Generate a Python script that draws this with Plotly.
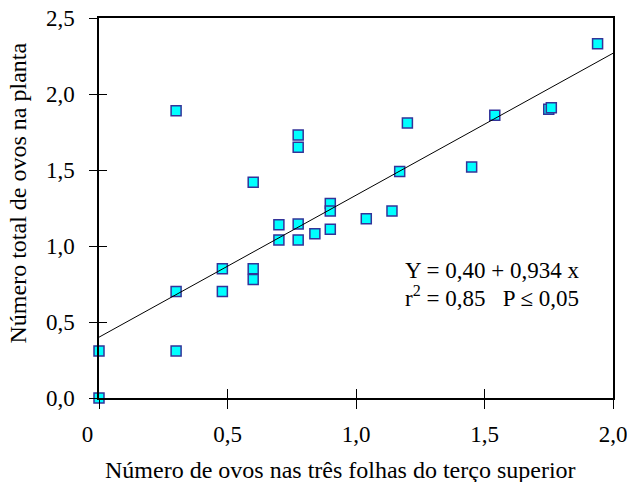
import plotly.graph_objects as go

# Data
x_vals = [0.00, 0.00, 0.30, 0.30, 0.30, 0.48, 0.48, 0.60, 0.60, 0.60,
          0.70, 0.70, 0.775, 0.775, 0.775, 0.775, 0.84, 0.90, 0.90, 0.90,
          1.04, 1.14, 1.17, 1.20, 1.45, 1.54, 1.75, 1.76, 1.94]
y_vals = [0.00, 0.31, 1.89, 0.70, 0.31, 0.85, 0.70, 1.42, 0.85, 0.78,
          1.14, 1.04, 1.73, 1.65, 1.145, 1.04, 1.08, 1.28, 1.23, 1.11,
          1.18, 1.23, 1.49, 1.81, 1.52, 1.86, 1.90, 1.91, 2.33]

intercept = 0.40
slope = 0.934
line_x = [0.0, 2.0]
line_y = [intercept + slope * v for v in line_x]

x_tickvals = [0, 0.5, 1.0, 1.5, 2.0]
x_ticktext = ["0&nbsp;&nbsp;&nbsp;&nbsp;", "0,5", "1,0", "1,5", "2,0"]
y_tickvals = [0, 0.5, 1.0, 1.5, 2.0, 2.5]
y_ticktext = ["0,0", "0,5", "1,0", "1,5", "2,0", "2,5"]

eq_line1 = "Y = 0,40 + 0,934 x"
eq_line2 = "r<sup>2</sup> = 0,85   P ≤ 0,05"
x_title = "Número de ovos nas três folhas do terço superior"
y_title = "Número total de ovos na planta"

FONT = "Liberation Serif, Times New Roman, serif"
XR = [0, 2.0]
YR = [0, 2.5]

fig = go.Figure()
fig.add_trace(go.Scatter(
    x=line_x, y=line_y, mode="lines", xaxis="x2", yaxis="y2",
    line=dict(color="black", width=1), showlegend=False, hoverinfo="skip"))
fig.add_trace(go.Scatter(
    x=x_vals, y=y_vals, mode="markers", cliponaxis=False,
    marker=dict(symbol="square", size=10, color="#00FFFF",
                line=dict(color="#333399", width=1.5)),
    showlegend=False))

axis_common = dict(showgrid=False, zeroline=False, automargin=False)
fig.update_layout(
    template="none",
    width=627, height=482,
    margin=dict(l=99, r=14, t=18, b=84),
    paper_bgcolor="white", plot_bgcolor="white",
    font=dict(family=FONT, size=23, color="black"),
    xaxis=dict(range=XR, tickvals=x_tickvals, ticktext=x_ticktext,
               ticks="outside", ticklen=9, tickwidth=1, tickcolor="black",
               showline=True, linecolor="black", linewidth=1.5, mirror=True,
               ticklabelstandoff=6, ticklabeloverflow="allow",
               **axis_common),
    yaxis=dict(range=YR, tickvals=y_tickvals, ticktext=y_ticktext,
               ticks="outside", ticklen=8, tickwidth=1, tickcolor="black",
               showline=True, linecolor="black", linewidth=1.5, mirror=True,
               ticklabelstandoff=10, ticklabeloverflow="allow",
               **axis_common),
    xaxis2=dict(range=XR, overlaying="x", tickvals=x_tickvals,
                ticks="inside", ticklen=9, tickwidth=1, tickcolor="black",
                showticklabels=False, showline=False, side="bottom",
                **axis_common),
    yaxis2=dict(range=YR, overlaying="y", tickvals=y_tickvals,
                ticks="inside", ticklen=8, tickwidth=1, tickcolor="black",
                showticklabels=False, showline=False, side="left",
                **axis_common),
)

fig.add_annotation(text=eq_line1, x=1.183, y=0.84, xref="x", yref="y",
                   xanchor="left", yanchor="middle", showarrow=False,
                   font=dict(size=23))
fig.add_annotation(text=eq_line2, x=1.183, y=0.668, xref="x", yref="y",
                   xanchor="left", yanchor="middle", showarrow=False,
                   font=dict(size=23))
fig.add_annotation(text=x_title, x=0.469, y=-0.19, xref="paper", yref="paper",
                   xanchor="center", yanchor="middle", showarrow=False,
                   font=dict(size=24))
fig.add_annotation(text=y_title, x=-0.157, y=0.539, xref="paper", yref="paper",
                   xanchor="center", yanchor="middle", showarrow=False,
                   textangle=-90, font=dict(size=24))

fig.write_html("out.html",
               config={"displayModeBar": False},
               post_script="document.body.style.margin='0';"
                           "document.body.style.overflow='hidden';")
